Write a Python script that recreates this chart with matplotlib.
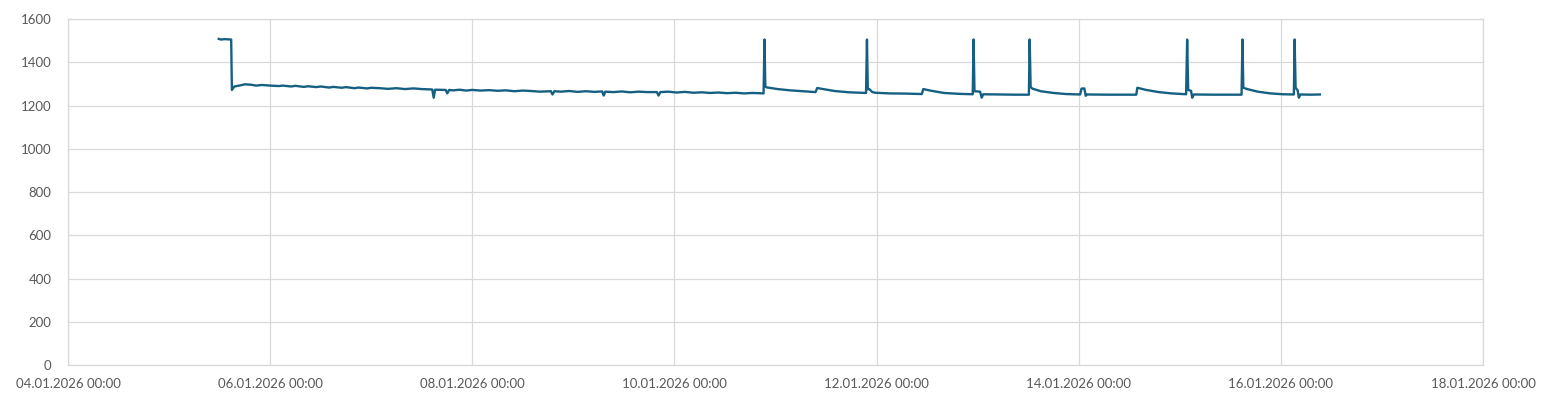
import pandas as pd
import matplotlib
matplotlib.use("Agg")
import matplotlib.pyplot as plt
import matplotlib.dates as mdates

# readings (time, value)
times = [
    "05.01.2026 11:48", "05.01.2026 12:20", "05.01.2026 13:10", "05.01.2026 14:45",
    "05.01.2026 14:55", "05.01.2026 15:30", "05.01.2026 16:40", "05.01.2026 18:00",
    "05.01.2026 19:30", "05.01.2026 20:40", "05.01.2026 22:00", "06.01.2026 00:00",
    "06.01.2026 02:00", "06.01.2026 03:00", "06.01.2026 05:00", "06.01.2026 06:00",
    "06.01.2026 08:00", "06.01.2026 09:00", "06.01.2026 11:00", "06.01.2026 12:00",
    "06.01.2026 14:00", "06.01.2026 15:00", "06.01.2026 17:00", "06.01.2026 18:00",
    "06.01.2026 20:00", "06.01.2026 21:00", "06.01.2026 23:00", "07.01.2026 00:00",
    "07.01.2026 02:00", "07.01.2026 04:00", "07.01.2026 06:00", "07.01.2026 08:00",
    "07.01.2026 10:00", "07.01.2026 12:00", "07.01.2026 14:30",
    "07.01.2026 14:50", "07.01.2026 15:10", "07.01.2026 17:40", "07.01.2026 18:04",
    "07.01.2026 18:30", "07.01.2026 19:30", "07.01.2026 21:00", "07.01.2026 22:30",
    "08.01.2026 00:00", "08.01.2026 02:00", "08.01.2026 04:00", "08.01.2026 06:00",
    "08.01.2026 08:00", "08.01.2026 10:00", "08.01.2026 12:00", "08.01.2026 14:00",
    "08.01.2026 16:00", "08.01.2026 18:40", "08.01.2026 19:03", "08.01.2026 19:30",
    "08.01.2026 21:00", "08.01.2026 23:00", "09.01.2026 01:00", "09.01.2026 03:00",
    "09.01.2026 05:00", "09.01.2026 06:50", "09.01.2026 07:12", "09.01.2026 07:35",
    "09.01.2026 09:30", "09.01.2026 11:30", "09.01.2026 13:30", "09.01.2026 15:30",
    "09.01.2026 17:30", "09.01.2026 19:50", "09.01.2026 20:14", "09.01.2026 20:40",
    "09.01.2026 22:30", "10.01.2026 00:30", "10.01.2026 02:30", "10.01.2026 04:30",
    "10.01.2026 06:30", "10.01.2026 08:30", "10.01.2026 10:30", "10.01.2026 12:30",
    "10.01.2026 14:30", "10.01.2026 16:30", "10.01.2026 18:30", "10.01.2026 21:10",
    # spike 1
    "10.01.2026 21:23", "10.01.2026 21:35", "10.01.2026 21:50", "11.01.2026 00:30",
    "11.01.2026 03:30", "11.01.2026 06:30", "11.01.2026 09:30", "11.01.2026 09:55",
    "11.01.2026 11:00", "11.01.2026 14:00", "11.01.2026 17:30", "11.01.2026 21:30",
    # spike 2
    "11.01.2026 21:43", "11.01.2026 21:55", "11.01.2026 22:15", "11.01.2026 23:00",
    "11.01.2026 23:40", "12.01.2026 03:00", "12.01.2026 07:00", "12.01.2026 10:45",
    "12.01.2026 11:05", "12.01.2026 13:00", "12.01.2026 16:00", "12.01.2026 19:30",
    "12.01.2026 22:50",
    # spike 3
    "12.01.2026 23:02", "12.01.2026 23:15", "13.01.2026 00:35", "13.01.2026 00:58",
    "13.01.2026 01:20", "13.01.2026 05:00", "13.01.2026 09:00", "13.01.2026 12:10",
    # spike 4
    "13.01.2026 12:21", "13.01.2026 12:35", "13.01.2026 13:00", "13.01.2026 15:00",
    "13.01.2026 18:00", "13.01.2026 21:00", "14.01.2026 00:20", "14.01.2026 00:40",
    "14.01.2026 01:20", "14.01.2026 01:40", "14.01.2026 02:00", "14.01.2026 07:00",
    "14.01.2026 13:40", "14.01.2026 13:55", "14.01.2026 16:00", "14.01.2026 19:00",
    "14.01.2026 22:00", "15.01.2026 01:30",
    # spike 5
    "15.01.2026 01:45", "15.01.2026 02:00", "15.01.2026 02:40", "15.01.2026 02:57",
    "15.01.2026 03:20", "15.01.2026 08:00", "15.01.2026 14:40",
    # spike 6
    "15.01.2026 14:53", "15.01.2026 15:05", "15.01.2026 16:00", "15.01.2026 18:30",
    "15.01.2026 21:30", "16.01.2026 00:30", "16.01.2026 03:05",
    # spike 7
    "16.01.2026 03:16", "16.01.2026 03:30", "16.01.2026 04:00", "16.01.2026 04:16",
    "16.01.2026 04:40", "16.01.2026 07:00", "16.01.2026 09:16",
]
values = [
    1508, 1505, 1507, 1505,
    1272, 1288, 1292, 1298,
    1296, 1292, 1295, 1292,
    1290, 1292, 1288, 1291,
    1286, 1289, 1285, 1288,
    1283, 1286, 1282, 1285,
    1280, 1283, 1279, 1282,
    1280, 1277, 1280, 1276,
    1279, 1276, 1274,
    1236, 1273, 1272, 1256,
    1272, 1270, 1273, 1269,
    1272, 1269, 1271, 1268,
    1270, 1266, 1269, 1267,
    1264, 1266, 1251, 1266,
    1264, 1267, 1263, 1266,
    1263, 1265, 1246, 1264,
    1262, 1265, 1261, 1264,
    1262, 1262, 1246, 1262,
    1264, 1260, 1263, 1259,
    1261, 1258, 1260, 1257,
    1259, 1256, 1258, 1256,
    1505, 1288, 1284, 1276,
    1270, 1266, 1262, 1281,
    1277, 1267, 1261, 1258,
    1505, 1275, 1276, 1262,
    1259, 1256, 1255, 1253,
    1276, 1268, 1258, 1254,
    1252,
    1505, 1266, 1264, 1236,
    1252, 1251, 1250, 1250,
    1505, 1286, 1278, 1266,
    1258, 1253, 1251, 1278,
    1279, 1245, 1251, 1250,
    1250, 1282, 1272, 1262,
    1256, 1252,
    1505, 1272, 1268, 1236,
    1251, 1250, 1250,
    1505, 1282, 1276, 1264,
    1256, 1252, 1251,
    1505, 1282, 1270, 1236,
    1251, 1250, 1251,
]

x_ticks = pd.date_range("2026-01-04", "2026-01-18", freq="2D")
y_ticks = list(range(0, 1601, 200))

t = pd.to_datetime(times, format="%d.%m.%Y %H:%M")

plt.rcParams['font.family'] = ['Lato', 'DejaVu Sans']

fig = plt.figure(figsize=(15.47, 3.94), dpi=100)
ax = fig.add_axes([68 / 1547, 29 / 394, 1415 / 1547, 346 / 394])

ax.plot(t, values, color='#156082', linewidth=1.7, solid_joinstyle='round')

ax.set_xlim(x_ticks[0], x_ticks[-1])
ax.set_ylim(0, 1600)
ax.set_xticks(x_ticks)
ax.set_yticks(y_ticks)
ax.xaxis.set_major_formatter(mdates.DateFormatter("%d.%m.%Y %H:%M"))
ax.grid(True, color='#D9D9D9', linewidth=0.9)
ax.set_axisbelow(True)
for s in ax.spines.values():
    s.set_color('#D9D9D9')
    s.set_linewidth(0.9)
ax.tick_params(length=0, labelsize=9.5, colors='#595959', pad=9)
ax.tick_params(axis='y', pad=12)

fig.savefig("out.png", dpi=100)
